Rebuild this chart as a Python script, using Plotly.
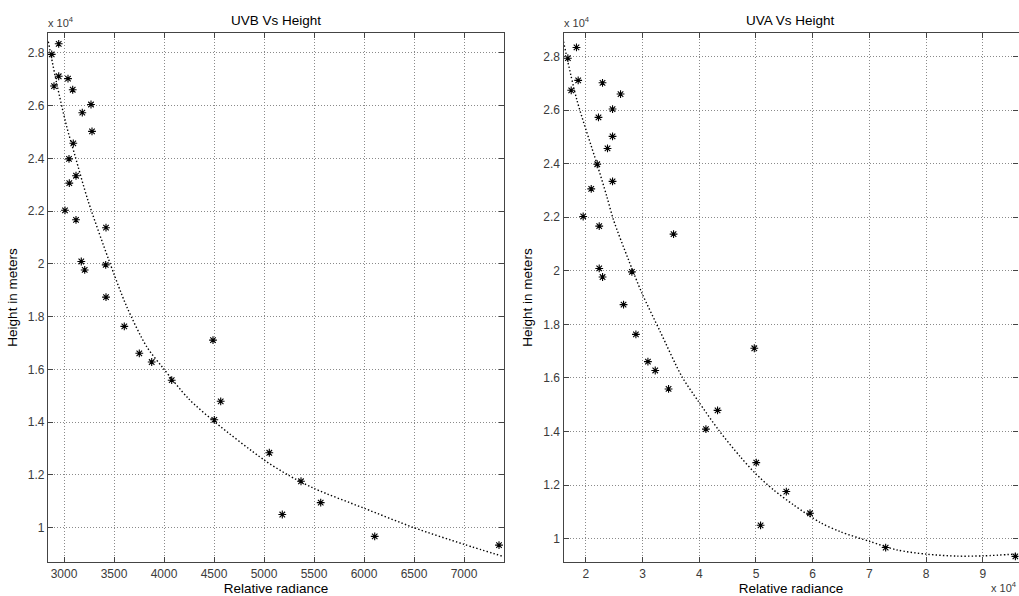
import plotly.graph_objects as go

# ---------------- data ----------------
height_m = [28340, 27940, 27110, 26740, 27020, 26600, 26040, 25730, 25020, 24570,
            23980, 23340, 23060, 22030, 21670, 21370, 20090, 19770, 19960, 18740,
            17630, 16610, 16280, 15590, 17110, 14090, 14790, 12840, 10500, 11760,
            10950, 9670, 9340]

uvb_radiance = [2947, 2877, 2947, 2900, 3040, 3087, 3270, 3183, 3280, 3093,
                3050, 3120, 3053, 3010, 3120, 3420, 3173, 3207, 3417, 3420,
                3603, 3753, 3877, 4077, 4490, 4503, 4567, 5053, 5183, 5370,
                5567, 6107, 7350]

uva_radiance = [18340, 16820, 18640, 17410, 22930, 26110, 24700, 22220, 24700, 23810,
                22000, 24700, 20940, 19520, 22350, 35460, 22350, 22940, 28110, 26640,
                28820, 30940, 32230, 34580, 49700, 41170, 43220, 50050, 50810, 55350,
                59530, 72870, 95750]

# fitted trend lines (as drawn in the picture)
uvb_fit_x = [2843, 2927, 3027, 3110, 3240, 3443, 3627, 3827, 3993, 4243, 4510,
             5000, 5240, 5500, 6000, 6500, 7000, 7400]
uvb_fit_y = [28420, 26840, 25200, 24100, 22400, 20200, 18380, 16860, 16040, 14900,
             14000, 12570, 12000, 11490, 10740, 10000, 9370, 8900]

uva_fit_x = [16050, 18410, 21940, 23700, 24870, 27520, 29880, 33110, 36940,
             39870, 43400, 47230, 49880, 53110, 56640, 61350, 64880, 70170, 74880,
             80170, 85460, 90160, 96050]
uva_fit_y = [28560, 26380, 24000, 22770, 21900, 20410, 19170, 17730, 16050,
             15120, 14060, 13060, 12440, 11820, 11260, 10600, 10260, 9890, 9580,
             9420, 9350, 9360, 9430]

y_tickvals = [10000, 12000, 14000, 16000, 18000, 20000, 22000, 24000, 26000, 28000]
y_ticktext = ["1", "1.2", "1.4", "1.6", "1.8", "2", "2.2", "2.4", "2.6", "2.8"]

uvb_tickvals = [3000, 3500, 4000, 4500, 5000, 5500, 6000, 6500, 7000]
uva_tickvals = [20000, 30000, 40000, 50000, 60000, 70000, 80000, 90000]
uva_ticktext = ["2", "3", "4", "5", "6", "7", "8", "9"]

titles = ["UVB Vs Height", "UVA Vs Height"]

# ---------------- layout geometry ----------------
W, H = 1019, 596
FONT = "Liberation Sans, Arial, sans-serif"
AX = "#444444"
TICKC = "#3a3a3a"

def px_x(p):
    return p / W

def px_y(p):
    return 1 - p / H

fig = go.Figure()

marker = dict(symbol="asterisk-open", size=6.5, color="black",
              line=dict(color="black", width=1.1))
fitline = dict(color="black", width=1.4, dash="1.4px,2.2px", shape="spline", smoothing=0.8)

fig.add_trace(go.Scatter(x=uvb_fit_x, y=uvb_fit_y, mode="lines", line=fitline,
                         xaxis="x", yaxis="y", showlegend=False, hoverinfo="skip"))
fig.add_trace(go.Scatter(x=uvb_radiance, y=height_m, mode="markers", marker=marker,
                         xaxis="x", yaxis="y", showlegend=False))
fig.add_trace(go.Scatter(x=uva_fit_x, y=uva_fit_y, mode="lines", line=fitline,
                         xaxis="x2", yaxis="y2", showlegend=False, hoverinfo="skip"))
fig.add_trace(go.Scatter(x=uva_radiance, y=height_m, mode="markers", marker=marker,
                         xaxis="x2", yaxis="y2", showlegend=False))

common = dict(showline=True, linecolor=AX, linewidth=1.3, mirror="ticks",
              ticks="inside", ticklen=5, tickcolor=AX, tickwidth=1,
              showgrid=True, gridcolor="#8a8a8a", gridwidth=1, griddash="1px,2px",
              zeroline=False, automargin=False,
              tickfont=dict(family=FONT, size=12, color=TICKC),
              title_font=dict(family=FONT, size=13.5, color="black"))

fig.update_layout(
    width=W, height=H, autosize=False,
    margin=dict(l=0, r=0, t=0, b=0),
    paper_bgcolor="white", plot_bgcolor="white",
    template="none",
    xaxis=dict(domain=[px_x(48), px_x(504)], range=[2840, 7400], anchor="y",
               tickvals=uvb_tickvals, title=dict(text="Relative radiance", standoff=4),
               **common),
    yaxis=dict(domain=[px_y(562), px_y(33)], range=[8700, 28750], anchor="x",
               tickvals=y_tickvals, ticktext=y_ticktext,
               title=dict(text="Height in meters", standoff=7), **common),
    xaxis2=dict(domain=[px_x(563.5), px_x(1018.5)], range=[16050, 96300], anchor="y2",
                tickvals=uva_tickvals, ticktext=uva_ticktext,
                title=dict(text="Relative radiance", standoff=4), **common),
    yaxis2=dict(domain=[px_y(562), px_y(33)], range=[9130, 28880], anchor="x2",
                tickvals=y_tickvals, ticktext=y_ticktext,
                title=dict(text="Height in meters", standoff=7), **common),
)

ann = []
for t, cx in zip(titles, [276, 790.5]):
    ann.append(dict(text=t, x=px_x(cx), y=px_y(21), xref="paper", yref="paper",
                    showarrow=False, xanchor="center", yanchor="middle",
                    font=dict(family=FONT, size=13.5, color="black")))
for lx in [46, 562]:
    ann.append(dict(text="x 10<sup>4</sup>", x=px_x(lx), y=px_y(31), xref="paper", yref="paper",
                    showarrow=False, xanchor="left", yanchor="bottom",
                    font=dict(family=FONT, size=11, color=TICKC)))
ann.append(dict(text="x 10<sup>4</sup>", x=px_x(1019), y=px_y(596), xref="paper", yref="paper",
                showarrow=False, xanchor="right", yanchor="bottom",
                font=dict(family=FONT, size=11, color=TICKC)))
fig.update_layout(annotations=ann)

fig.write_html("out.html")
